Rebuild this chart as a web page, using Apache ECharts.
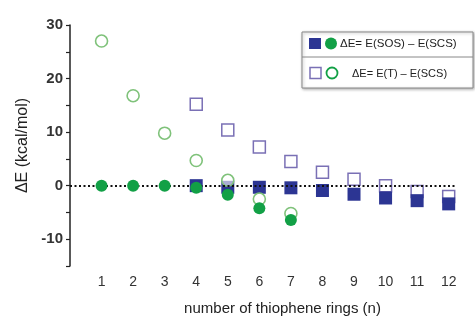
<!DOCTYPE html>
<html><head><meta charset="utf-8">
<script src="https://cdn.jsdelivr.net/npm/echarts@6/dist/echarts.min.js"></script>
<style>html,body{margin:0;padding:0;background:#fff}#c{width:475px;height:323px}</style>
</head><body><div id="c"></div>
<script>
// n values
var nSOSCircle = [1, 2, 3, 4, 5, 6, 7];
var sosCircle = [0, 0, 0, -0.4, -1.7, -4.2, -6.4];
var nTCircle = [1, 2, 3, 4, 5, 6, 7];
var tCircle = [27, 16.8, 9.8, 4.7, 1.0, -2.5, -5.2];
var nSOSSquare = [4, 5, 6, 7, 8, 9, 10, 11, 12];
var sosSquare = [0, -0.3, -0.3, -0.4, -0.9, -1.6, -2.3, -2.8, -3.4];
var nTSquare = [4, 5, 6, 7, 8, 9, 10, 11, 12];
var tSquare = [15.2, 10.4, 7.2, 4.5, 2.5, 1.2, 0, -1.1, -2.0];
var xTickLabels = ['1','2','3','4','5','6','7','8','9','10','11','12'];
var yTickLabels = ['-10','0','10','20','30'];
var legendTexts = ['\u0394E= E(SOS) \u2013 E(SCS)', '\u0394E= E(T) \u2013 E(SCS)'];

function pairs(xs, ys){ return xs.map(function(x,i){ return [x, ys[i]]; }); }

var BLUE = '#2c3593', BLUE_OPEN = '#7a70b5', GREEN = '#12a046', GREEN_OPEN = '#7fc27a';
var FONT = '"Liberation Sans", Arial, sans-serif';

var chart = echarts.init(document.getElementById('c'));
chart.setOption({
  animation: false,
  backgroundColor: '#fff',
  grid: { left: 70, right: 20, top: 25, bottom: 57 },
  xAxis: {
    type: 'value', min: 0, max: 12.2, interval: 1,
    axisLine: { show: false, onZero: false }, axisTick: { show: false }, splitLine: { show: false },
    axisLabel: { margin: 9, color: '#333', fontSize: 14, fontFamily: FONT,
      formatter: function(v){ var s = String(v); return xTickLabels.indexOf(s) >= 0 ? s : ''; } },
    name: 'number of thiophene rings (n)', nameLocation: 'middle', nameGap: 35,
    nameTextStyle: { color: '#222', fontSize: 15, fontFamily: FONT, padding: [0, 0, 0, 40] }
  },
  yAxis: {
    type: 'value', min: -15, max: 30, interval: 5,
    axisLine: { show: true, lineStyle: { color: '#222', width: 1.5 } },
    axisTick: { show: true, inside: false, length: 4, lineStyle: { color: '#222', width: 1.2 } },
    splitLine: { show: false },
    axisLabel: { margin: 7, color: '#333', fontSize: 15, fontWeight: 'bold', fontFamily: FONT,
      formatter: function(v){ var s = String(v); return yTickLabels.indexOf(s) >= 0 ? s : ''; } },
    name: '\u0394E (kcal/mol)', nameLocation: 'middle', nameGap: 38, nameRotate: 90,
    nameTextStyle: { color: '#222', fontSize: 16, fontFamily: FONT }
  },
  series: [
    { name: 'T square', type: 'scatter', data: pairs(nTSquare, tSquare), symbol: 'rect', symbolSize: 12,
      itemStyle: { color: '#fff', borderColor: BLUE_OPEN, borderWidth: 1.5, opacity: 1 }, z: 2 },
    { name: 'SOS square', type: 'scatter', data: pairs(nSOSSquare, sosSquare), symbol: 'rect', symbolSize: 13,
      itemStyle: { color: BLUE, opacity: 1 }, z: 3 },
    { name: 'T circle', type: 'scatter', data: pairs(nTCircle, tCircle), symbol: 'circle', symbolSize: 12,
      itemStyle: { color: 'rgba(255,255,255,0.6)', borderColor: GREEN_OPEN, borderWidth: 1.6, opacity: 1 }, z: 4 },
    { name: 'SOS circle', type: 'scatter', data: pairs(nSOSCircle, sosCircle), symbol: 'circle', symbolSize: 12,
      itemStyle: { color: GREEN, opacity: 1 }, z: 5,
      markLine: { silent: true, symbol: ['none','none'], label: { show: false },
        lineStyle: { type: [2, 2.5], color: '#111', width: 2.2 }, data: [{ yAxis: 0 }] } }
  ],
  graphic: [
    { type: 'rect', shape: { x: 302, y: 32, width: 171, height: 56 },
      style: { fill: '#fff', stroke: '#888', lineWidth: 1, shadowBlur: 3, shadowColor: 'rgba(0,0,0,0.3)', shadowOffsetX: 1, shadowOffsetY: 1 }, z: 10 },
    { type: 'line', shape: { x1: 302, y1: 57, x2: 473, y2: 57 }, style: { stroke: '#888', lineWidth: 1 }, z: 11 },
    { type: 'rect', shape: { x: 309, y: 38, width: 12, height: 11 }, style: { fill: BLUE }, z: 11 },
    { type: 'circle', shape: { cx: 331, cy: 43.5, r: 6 }, style: { fill: GREEN }, z: 11 },
    { type: 'text', x: 340, y: 44, style: { text: legendTexts[0], fill: '#222', font: '11.5px ' + FONT, verticalAlign: 'middle' }, z: 11 },
    { type: 'rect', shape: { x: 310, y: 67.5, width: 11, height: 11 }, style: { fill: '#fff', stroke: BLUE_OPEN, lineWidth: 1.5 }, z: 11 },
    { type: 'circle', shape: { cx: 332, cy: 73, r: 5.5 }, style: { fill: '#fff', stroke: GREEN, lineWidth: 1.8 }, z: 11 },
    { type: 'text', x: 352, y: 73.5, style: { text: legendTexts[1], fill: '#222', font: '11px ' + FONT, verticalAlign: 'middle' }, z: 11 }
  ]
});
</script>
</body></html>
